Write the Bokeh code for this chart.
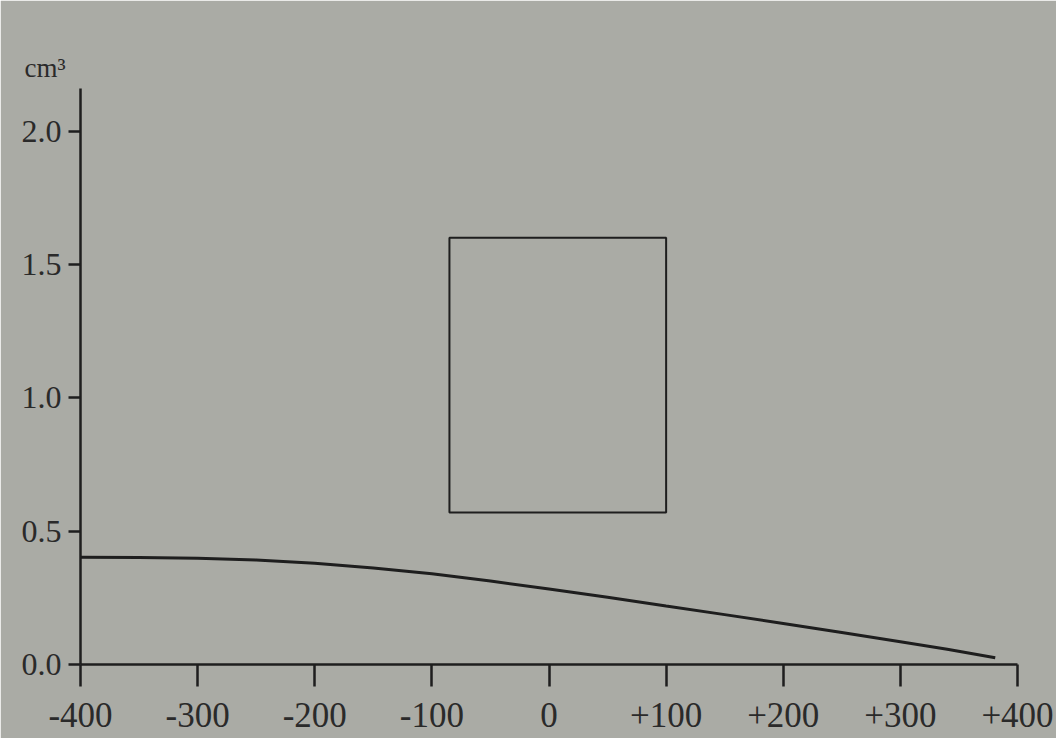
from bokeh.plotting import figure
from bokeh.models import Range1d, FixedTicker, Title
from bokeh.embed import file_html
from bokeh.resources import INLINE

# data
curve_x = [-400, -350, -300, -250, -200, -150, -100, -50, 0, 50, 100, 150, 200, 250, 300, 340, 381]
curve_y = [0.402, 0.401, 0.398, 0.392, 0.38, 0.362, 0.34, 0.313, 0.283, 0.252, 0.219, 0.187, 0.154, 0.12, 0.085, 0.057, 0.025]
rect_left = [-85]
rect_right = [100]
rect_bottom = [0.57]
rect_top = [1.6]
x_ticks = [-400, -300, -200, -100, 0, 100, 200, 300, 400]
x_tick_labels = ["-400", "-300", "-200", "-100", "0", "+100", "+200", "+300", "+400"]
y_ticks = [0.0, 0.5, 1.0, 1.5, 2.0]
y_tick_labels = ["0.0", "0.5", "1.0", "1.5", "2.0"]
unit_label = "cm³"

BG = "#aaaba5"
INK = "#1e1e1e"
FONT = "Liberation Serif"

p = figure(width=1056, height=738, output_backend="svg", toolbar_location=None,
           x_range=Range1d(-400, 400), y_range=Range1d(0, 2.16),
           min_border_left=80, min_border_right=39, min_border_top=88, min_border_bottom=74)
p.background_fill_color = BG
p.border_fill_color = BG
p.outline_line_color = BG
p.outline_line_width = 2
p.grid.visible = False

for ax in (p.xaxis, p.yaxis):
    ax.axis_line_color = INK
    ax.axis_line_width = 2.5
    ax.major_tick_line_color = INK
    ax.major_tick_line_width = 2.5
    ax.minor_tick_line_color = None
    ax.major_tick_in = 0
    ax.major_label_text_font = FONT
    ax.major_label_text_color = "#2a2a2a"

p.xaxis.ticker = FixedTicker(ticks=x_ticks)
p.xaxis.major_label_overrides = {t: l for t, l in zip(x_ticks, x_tick_labels)}
p.xaxis.major_tick_out = 22
p.xaxis.major_label_standoff = 16
p.xaxis.major_label_text_font_size = "35px"

p.yaxis.ticker = FixedTicker(ticks=y_ticks)
p.yaxis.major_label_overrides = {t: l for t, l in zip(y_ticks, y_tick_labels)}
p.yaxis.major_tick_out = 12
p.yaxis.major_label_standoff = 7
p.yaxis.major_label_text_font_size = "32px"

p.line(curve_x, curve_y, line_color=INK, line_width=3)
p.quad(left=rect_left, right=rect_right, bottom=rect_bottom, top=rect_top,
       fill_color=None, line_color=INK, line_width=2)

p.add_layout(Title(text=unit_label, align="left", offset=-56, text_font=FONT,
                   text_font_size="27px", text_font_style="normal",
                   text_color="#2a2a2a", standoff=12), "above")

open("out.html", "w").write(file_html(p, INLINE))
